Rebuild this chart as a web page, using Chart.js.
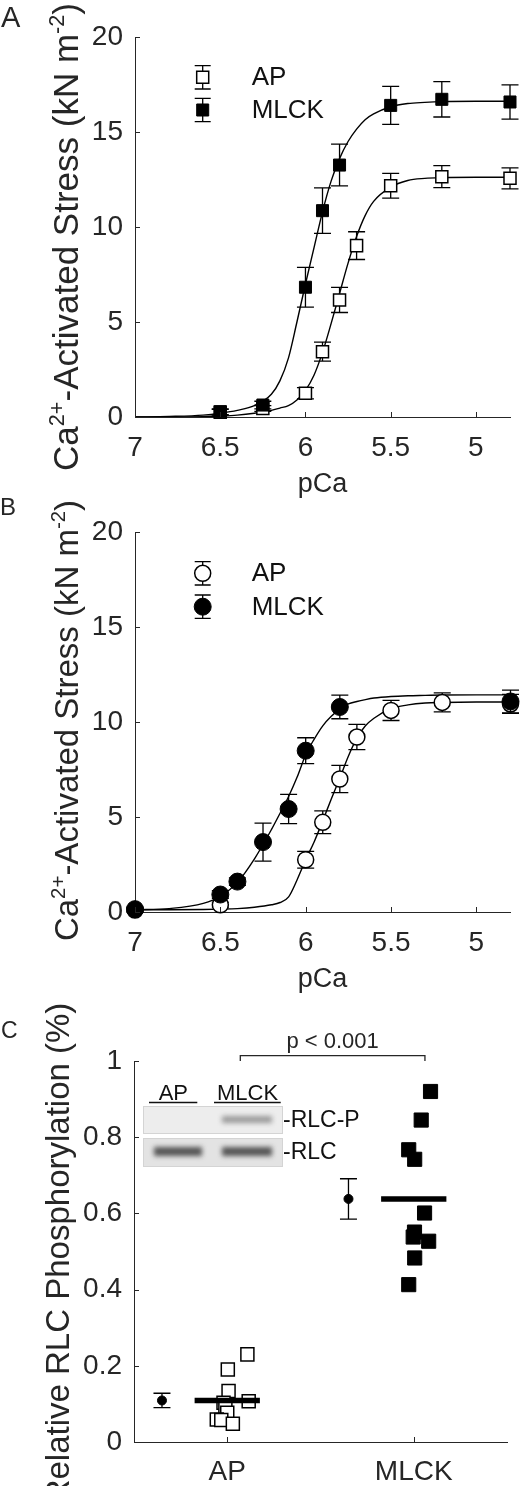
<!DOCTYPE html>
<html>
<head>
<meta charset="utf-8">
<script src="https://cdn.jsdelivr.net/npm/chart.js@4.4.1/dist/chart.umd.min.js"></script>
<style>
  html, body { margin: 0; padding: 0; background: #fff; }
  body { width: 520px; height: 1486px; position: relative; overflow: hidden; }
  .panel { position: absolute; left: 0; width: 520px; }
</style>
</head>
<body>
<div class="panel" style="top:0;height:505px"><canvas id="chartA" width="520" height="505"></canvas></div>
<div class="panel" style="top:480px;height:515px"><canvas id="chartB" width="520" height="515"></canvas></div>
<div class="panel" style="top:970px;height:516px"><canvas id="chartC" width="520" height="516"></canvas></div>
<script>
// stress-pCa curves (A, B) and RLC phosphorylation scatter (C)

const FONT = '"Liberation Sans", Arial, sans-serif';
const INK = '#262626';

const seriesNames = ['AP', 'MLCK'];
const pcaTicks = [7, 6.5, 6, 5.5, 5];
const stressTicks = [0, 5, 10, 15, 20];

// Panel A - squares
const pcaA_AP = [6.5, 6.25, 6.0, 5.9, 5.8, 5.7, 5.5, 5.2, 4.8];
const stressA_AP = [0.25, 0.45, 1.25, 3.44, 6.16, 9.02, 12.17, 12.65, 12.56];
const errA_AP = [0.15, 0.15, 0.3, 0.5, 0.66, 0.73, 0.65, 0.58, 0.55];
const pcaA_MLCK = [6.5, 6.25, 6.0, 5.9, 5.8, 5.5, 5.2, 4.8];
const stressA_MLCK = [0.28, 0.63, 6.83, 10.86, 13.26, 16.4, 16.72, 16.58];
const errA_MLCK = [0.15, 0.2, 1.05, 1.2, 1.1, 1.0, 0.93, 0.9];

// Panel B - circles
const pcaB_AP = [7.0, 6.5, 6.0, 5.9, 5.8, 5.7, 5.5, 5.2, 4.8];
const stressB_AP = [0.1, 0.38, 2.75, 4.72, 7.0, 9.21, 10.61, 11.03, 10.95];
const errB_AP = [0.1, 0.12, 0.44, 0.6, 0.72, 0.66, 0.53, 0.5, 0.5];
const pcaB_MLCK = [7.0, 6.5, 6.4, 6.25, 6.1, 6.0, 5.8, 4.8];
const stressB_MLCK = [0.15, 0.92, 1.6, 3.68, 5.42, 8.49, 10.79, 11.08];
const errB_MLCK = [0.1, 0.2, 0.2, 1.0, 0.77, 0.68, 0.62, 0.6];

// fitted curves
const fitPca = [7.0, 6.8, 6.6, 6.5, 6.4, 6.3, 6.2, 6.15, 6.1, 6.05, 6.0, 5.95, 5.9, 5.85, 5.8, 5.75, 5.7, 5.65, 5.6, 5.5, 5.4, 5.3, 5.2, 5.0, 4.8];
const fitA_AP = [0.0, 0.0, 0.02, 0.05, 0.1, 0.2, 0.35, 0.47, 0.6, 0.9, 1.4, 2.2, 3.4, 4.9, 6.5, 8.1, 9.5, 10.6, 11.35, 12.1, 12.45, 12.56, 12.6, 12.62, 12.62];
const fitA_MLCK = [0.0, 0.03, 0.1, 0.2, 0.35, 0.6, 1.2, 1.9, 3.1, 5.0, 7.0, 8.9, 10.8, 12.4, 13.6, 14.5, 15.15, 15.65, 15.95, 16.33, 16.5, 16.56, 16.6, 16.62, 16.62];
const fitB_AP = [0.12, 0.12, 0.13, 0.15, 0.18, 0.25, 0.38, 0.5, 0.8, 1.7, 2.75, 3.7, 4.8, 5.95, 7.05, 8.2, 9.15, 9.8, 10.2, 10.7, 10.9, 11.0, 11.03, 11.05, 11.05];
const fitB_MLCK = [0.12, 0.18, 0.45, 0.82, 1.56, 2.8, 4.35, 5.2, 6.08, 7.1, 8.28, 9.1, 9.8, 10.3, 10.68, 10.95, 11.08, 11.18, 11.26, 11.34, 11.38, 11.4, 11.42, 11.43, 11.43];

// Panel C - RLC phosphorylation
const groups = ['AP', 'MLCK'];
const rlcTicks = [0, 0.2, 0.4, 0.6, 0.8, 1];
const apX = [1.108, 1.003, 1.007, 1.115, 0.98, 0.99, 1.0, 0.944, 0.968, 1.03];
const apRLC = [0.23, 0.19, 0.134, 0.107, 0.103, 0.09, 0.077, 0.059, 0.058, 0.048];
const mlckX = [2.09, 2.04, 1.973, 2.005, 2.058, 2.004, 1.997, 2.08, 2.005, 1.973];
const mlckRLC = [0.92, 0.845, 0.767, 0.742, 0.601, 0.551, 0.538, 0.527, 0.483, 0.413];
const groupMeans = [0.109, 0.638];
const groupSE = [0.019, 0.053];
const sigSpan = [1.07, 2.06];

Chart.defaults.font.family = FONT;
Chart.defaults.color = INK;

function pts(xs, ys) {
    return xs.map((x, i) => ({ x: x, y: ys[i] }));
}

// vertical error bars with caps, drawn just under each marker set
const errorBars = {
    id: 'errorBars',
    beforeDatasetDraw(chart, args) {
        const ds = chart.data.datasets[args.index];
        if (!ds.errors) return;
        const { ctx, scales: { x, y } } = chart;
        const cap = ds.capHalf || 8.5;
        ctx.save();
        ctx.strokeStyle = '#000';
        ctx.lineWidth = 1.3;
        ds.data.forEach((p, i) => {
            const e = ds.errors[i];
            const px = x.getPixelForValue(p.x);
            const top = y.getPixelForValue(p.y + e);
            const bot = y.getPixelForValue(p.y - e);
            ctx.beginPath();
            ctx.moveTo(px, top); ctx.lineTo(px, bot);
            ctx.moveTo(px - cap, top); ctx.lineTo(px + cap, top);
            ctx.moveTo(px - cap, bot); ctx.lineTo(px + cap, bot);
            ctx.stroke();
        });
        ctx.restore();
    }
};

// matlab style ticks pointing into the plot
const inwardTicks = {
    id: 'inwardTicks',
    afterDraw(chart) {
        const { ctx, chartArea: a, scales: { x, y } } = chart;
        ctx.save();
        ctx.strokeStyle = INK;
        ctx.lineWidth = 1;
        x.ticks.forEach(t => {
            const px = Math.round(x.getPixelForValue(t.value)) + 0.5;
            ctx.beginPath(); ctx.moveTo(px, a.bottom); ctx.lineTo(px, a.bottom - 5); ctx.stroke();
        });
        y.ticks.forEach(t => {
            const py = Math.round(y.getPixelForValue(t.value)) + 0.5;
            ctx.beginPath(); ctx.moveTo(a.left, py); ctx.lineTo(a.left + 5, py); ctx.stroke();
        });
        ctx.restore();
    }
};

// rotated axis title with superscript pieces
function drawYTitle(ctx, parts, cx, cy, size) {
    ctx.save();
    ctx.translate(cx, cy);
    ctx.rotate(-Math.PI / 2);
    ctx.fillStyle = INK;
    ctx.textBaseline = 'alphabetic';
    let total = 0;
    parts.forEach(p => {
        ctx.font = (p.sup ? size * 0.62 : size) + 'px ' + FONT;
        p.w = ctx.measureText(p.t).width;
        total += p.w;
    });
    let x = -total / 2;
    parts.forEach(p => {
        ctx.font = (p.sup ? size * 0.62 : size) + 'px ' + FONT;
        ctx.fillText(p.t, x, p.sup ? -size * 0.4 : 0);
        x += p.w;
    });
    ctx.restore();
}

function drawText(ctx, text, x, y, size, align) {
    ctx.save();
    ctx.fillStyle = INK;
    ctx.font = size + 'px ' + FONT;
    ctx.textAlign = align || 'left';
    ctx.textBaseline = 'alphabetic';
    ctx.fillText(text, x, y);
    ctx.restore();
}

function drawLegend(ctx, items, mx, tx) {
    items.forEach(it => {
        ctx.save();
        ctx.strokeStyle = '#000';
        ctx.lineWidth = 1.3;
        ctx.beginPath();
        ctx.moveTo(mx, it.y - 11.7); ctx.lineTo(mx, it.y + 11.7);
        ctx.moveTo(mx - 8, it.y - 11.7); ctx.lineTo(mx + 8, it.y - 11.7);
        ctx.moveTo(mx - 8, it.y + 11.7); ctx.lineTo(mx + 8, it.y + 11.7);
        ctx.stroke();
        ctx.fillStyle = it.filled ? '#000' : '#fff';
        ctx.lineWidth = it.filled ? 1 : 1.5;
        Chart.helpers.drawPoint(ctx, { pointStyle: it.style, radius: it.r, borderWidth: ctx.lineWidth, rotation: 0 }, mx, it.y);
        ctx.restore();
        ctx.save();
        ctx.fillStyle = '#111';
        ctx.font = '26px ' + FONT;
        ctx.textBaseline = 'middle';
        ctx.fillText(it.label, tx, it.y + 1);
        ctx.restore();
    });
}

const stressTitle = [
    { t: 'Ca' }, { t: '2+', sup: true }, { t: '-Activated Stress (kN m' }, { t: '-2', sup: true }, { t: ')' }
];

function markerDataset(label, xs, ys, errs, style, filled, radius, order) {
    return {
        label: label,
        data: pts(xs, ys),
        errors: errs,
        showLine: false,
        pointStyle: style,
        pointRadius: radius,
        pointHoverRadius: radius,
        pointBackgroundColor: filled ? '#000' : '#fff',
        pointBorderColor: '#000',
        pointBorderWidth: filled ? 1 : 1.5,
        order: order,
        clip: false
    };
}

function curveDataset(ys) {
    return {
        data: pts(fitPca, ys),
        showLine: true,
        pointRadius: 0,
        borderColor: '#000',
        borderWidth: 1.4,
        cubicInterpolationMode: 'monotone',
        fill: false,
        order: 3
    };
}

function axisOptions(o) {
    const xTicks = { font: { size: 28 }, color: INK, padding: o.xPad, maxRotation: 0, autoSkip: false, callback: o.xLabel || (v => String(v)) };
    return {
        responsive: false,
        animation: false,
        events: [],
        layout: { padding: { top: o.top, right: o.right, left: 0, bottom: 0 } },
        plugins: { legend: { display: false }, tooltip: { enabled: false } },
        scales: {
            x: {
                type: 'linear', reverse: !!o.reverse, min: o.xMin, max: o.xMax,
                grid: { display: false, drawTicks: false },
                border: { display: true, color: INK, width: 1 },
                ticks: xTicks,
                afterBuildTicks: s => { s.ticks = o.xTicks.map(v => ({ value: v })); },
                afterFit: s => { s.height = o.xHeight; }
            },
            y: {
                type: 'linear', min: o.yMin, max: o.yMax,
                grid: { display: false, drawTicks: false },
                border: { display: true, color: INK, width: 1 },
                ticks: { font: { size: 28 }, color: INK, padding: 12, callback: v => String(v) },
                afterBuildTicks: s => { s.ticks = o.yTicks.map(v => ({ value: v })); },
                afterFit: s => { s.width = o.yWidth; }
            }
        }
    };
}

// ---- Panel A ----
new Chart(document.getElementById('chartA'), {
    type: 'scatter',
    data: {
        datasets: [
            markerDataset(seriesNames[1], pcaA_MLCK, stressA_MLCK, errA_MLCK, 'rect', true, 8.5, 1),
            markerDataset(seriesNames[0], pcaA_AP, stressA_AP, errA_AP, 'rect', false, 8.5, 2),
            curveDataset(fitA_MLCK),
            curveDataset(fitA_AP)
        ]
    },
    options: axisOptions({ top: 37, right: 9, xHeight: 88, yWidth: 135, xPad: 14, reverse: true,
        xMin: 4.8, xMax: 7, xTicks: pcaTicks, yMin: 0, yMax: 20, yTicks: stressTicks }),
    plugins: [errorBars, inwardTicks, {
        id: 'decorA',
        afterDraw(chart) {
            const ctx = chart.ctx;
            drawText(ctx, 'A', 1, 27, 29);
            drawYTitle(ctx, stressTitle, 78, 237, 35);
            drawText(ctx, 'pCa', 322.5, 491.5, 27, 'center');
            drawLegend(ctx, [
                { label: seriesNames[0], y: 77.3, style: 'rect', filled: false, r: 8.5 },
                { label: seriesNames[1], y: 110, style: 'rect', filled: true, r: 8.5 }
            ], 202.7, 251.7);
        }
    }]
});

// ---- Panel B ----
new Chart(document.getElementById('chartB'), {
    type: 'scatter',
    data: {
        datasets: [
            markerDataset(seriesNames[1], pcaB_MLCK, stressB_MLCK, errB_MLCK, 'circle', true, 8.5, 1),
            markerDataset(seriesNames[0], pcaB_AP, stressB_AP, errB_AP, 'circle', false, 8, 2),
            curveDataset(fitB_MLCK),
            curveDataset(fitB_AP)
        ]
    },
    options: axisOptions({ top: 52, right: 9, xHeight: 83, yWidth: 135, xPad: 14, reverse: true,
        xMin: 4.8, xMax: 7, xTicks: pcaTicks, yMin: 0, yMax: 20, yTicks: stressTicks }),
    plugins: [errorBars, inwardTicks, {
        id: 'decorB',
        afterDraw(chart) {
            const ctx = chart.ctx;
            drawText(ctx, 'B', 0, 35, 24);
            drawYTitle(ctx, stressTitle, 78, 240.5, 33);
            drawText(ctx, 'pCa', 322.5, 507, 27, 'center');
            drawLegend(ctx, [
                { label: seriesNames[0], y: 93.3, style: 'circle', filled: false, r: 8 },
                { label: seriesNames[1], y: 126.7, style: 'circle', filled: true, r: 8.5 }
            ], 202.7, 251.7);
        }
    }]
});

// ---- Panel C ----
const meanOffset = 0.35;
const meanHalfSpan = 0.175;

function meanLine(i) {
    const c = i + 1;
    return {
        data: [{ x: c - meanHalfSpan, y: groupMeans[i] }, { x: c + meanHalfSpan, y: groupMeans[i] }],
        showLine: true, pointRadius: 0, borderColor: '#000', borderWidth: 5.5, borderCapStyle: 'butt', order: 0
    };
}

function drawBlot(ctx) {
    ctx.save();
    // two membrane strips
    ctx.fillStyle = '#ededed';
    ctx.fillRect(143, 136, 140, 28);
    ctx.fillStyle = '#e3e3e3';
    ctx.fillRect(143, 168, 140, 29);
    ctx.strokeStyle = '#d4d4d4';
    ctx.lineWidth = 1;
    ctx.strokeRect(143.5, 136.5, 139, 27);
    ctx.strokeRect(143.5, 168.5, 139, 28);
    ctx.filter = 'blur(2.5px)';
    ctx.fillStyle = 'rgba(120,120,120,0.7)';
    ctx.fillRect(222, 146, 50, 7);
    ctx.fillStyle = 'rgba(70,70,70,0.9)';
    ctx.fillRect(154, 177, 48, 9);
    ctx.fillRect(222, 177, 50, 9);
    ctx.filter = 'none';
    ctx.restore();

    ctx.save();
    ctx.fillStyle = '#111';
    ctx.font = '22px ' + FONT;
    ctx.textAlign = 'center';
    ctx.fillText(groups[0], 173.3, 129.5);
    ctx.fillText(groups[1], 247.5, 129.5);
    ctx.strokeStyle = '#111';
    ctx.lineWidth = 1.5;
    ctx.beginPath();
    ctx.moveTo(149, 132.5); ctx.lineTo(197.3, 132.5);
    ctx.moveTo(214, 132.5); ctx.lineTo(280.7, 132.5);
    ctx.stroke();
    ctx.textAlign = 'left';
    ctx.textBaseline = 'middle';
    ctx.font = '23px ' + FONT;
    ctx.fillText('-RLC-P', 283, 151);
    ctx.fillText('-RLC', 283, 182.5);
    ctx.restore();
}

new Chart(document.getElementById('chartC'), {
    type: 'scatter',
    data: {
        datasets: [
            meanLine(0),
            meanLine(1),
            Object.assign(markerDataset('mean', groupMeans.map((m, i) => i + 1 - meanOffset), groupMeans, groupSE, 'circle', true, 4.5, 1), { capHalf: 8.5 }),
            markerDataset(groups[1], mlckX, mlckRLC, null, 'rect', true, 10, 1),
            markerDataset(groups[0], apX, apRLC, null, 'rect', false, 9.2, 2)
        ]
    },
    options: axisOptions({ top: 91, right: 13, xHeight: 44, yWidth: 134, xPad: 13,
        xMin: 0.5, xMax: 2.5, xTicks: [1, 2], xLabel: v => groups[v - 1],
        yMin: 0, yMax: 1, yTicks: rlcTicks }),
    plugins: [errorBars, inwardTicks, {
        id: 'decorC',
        afterDraw(chart) {
            const ctx = chart.ctx;
            const x = chart.scales.x;
            drawText(ctx, 'C', 1, 68, 23);
            drawYTitle(ctx, [{ t: 'Relative RLC Phosphorylation (%)' }], 69, 283, 33);
            drawBlot(ctx);
            // significance bracket
            const x0 = x.getPixelForValue(sigSpan[0]);
            const x1 = x.getPixelForValue(sigSpan[1]);
            ctx.save();
            ctx.strokeStyle = INK;
            ctx.lineWidth = 1.3;
            ctx.beginPath();
            ctx.moveTo(x0, 91); ctx.lineTo(x0, 85.7); ctx.lineTo(x1, 85.7); ctx.lineTo(x1, 91);
            ctx.stroke();
            ctx.restore();
            drawText(ctx, 'p < 0.001', (x0 + x1) / 2, 78, 22, 'center');
        }
    }]
});
</script>
</body>
</html>
